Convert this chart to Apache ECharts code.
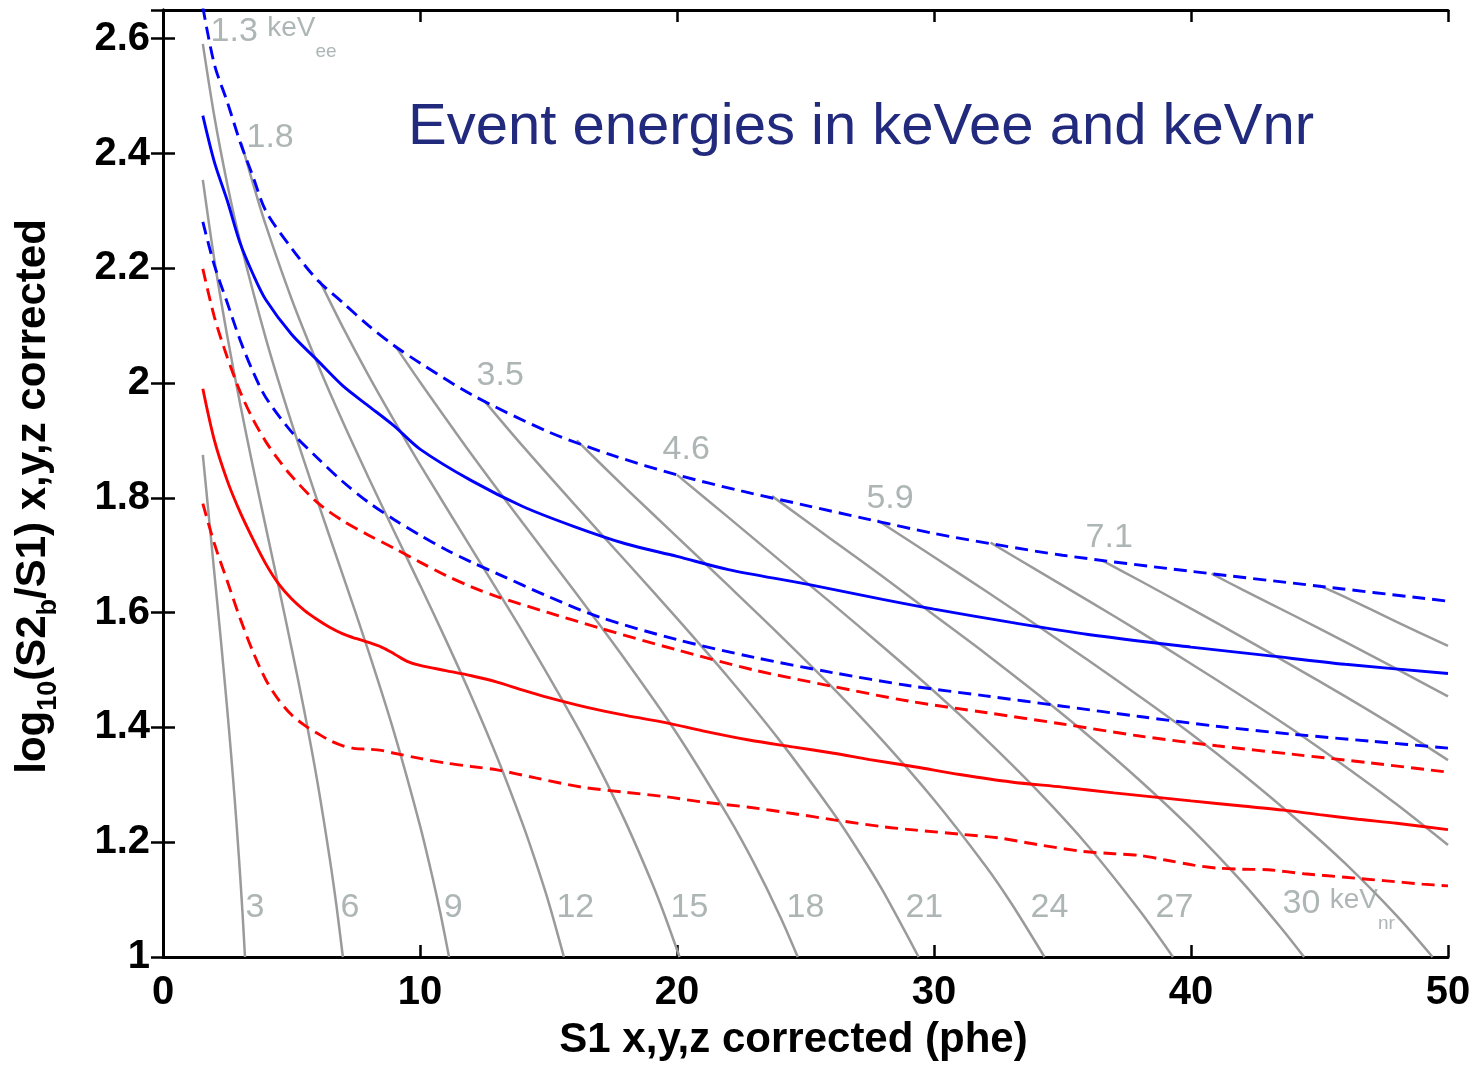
<!DOCTYPE html>
<html>
<head>
<meta charset="utf-8">
<script src="https://cdn.jsdelivr.net/npm/echarts@6/dist/echarts.min.js"></script>
<style>
  html, body { margin: 0; padding: 0; background: #ffffff; }
  #chart { width: 1477px; height: 1066px; }
</style>
</head>
<body>
<div id="chart"></div>
<script>
// ---- ER band (blue): median and upper / lower band edges, [S1, log10(S2b/S1)]
const erMedian = [[1.55,2.466],[2,2.385],[2.5,2.318],[3,2.244],[3.5,2.19],[4,2.145],[5,2.085],[6,2.04],[7,1.995],[8,1.96],[9,1.925],[10,1.885],[12,1.83],[14,1.785],[16,1.75],[18,1.72],[20,1.698],[22,1.675],[25,1.65],[28,1.623],[30,1.606],[33,1.583],[36,1.562],[40,1.54],[43,1.525],[46,1.51],[50,1.494]];
const erUpper = [[1.55,2.655],[2,2.555],[2.5,2.49],[3,2.42],[3.5,2.36],[4,2.30],[5,2.235],[6,2.18],[7,2.14],[8,2.10],[9,2.065],[10,2.035],[12,1.98],[15,1.915],[17.5,1.874],[20,1.84],[22.5,1.812],[25,1.787],[27.5,1.762],[30,1.738],[32.5,1.718],[35,1.70],[40,1.672],[45,1.646],[50,1.62]];
const erLower = [[1.55,2.281],[2,2.205],[2.5,2.14],[3,2.075],[3.5,2.02],[4,1.975],[5,1.915],[6,1.87],[7,1.828],[8,1.792],[9,1.762],[10,1.735],[11,1.71],[12,1.688],[13,1.668],[15,1.628],[17,1.592],[20,1.553],[23,1.522],[26,1.496],[29,1.473],[32,1.455],[35,1.437],[38,1.419],[41,1.402],[44,1.388],[47,1.376],[50,1.364]];

// ---- NR band (red)
const nrMedian = [[1.55,1.99],[2,1.90],[2.5,1.83],[3,1.775],[3.5,1.728],[4,1.685],[4.5,1.65],[5,1.624],[5.5,1.604],[6,1.588],[6.5,1.574],[7,1.563],[7.5,1.555],[8,1.548],[8.5,1.54],[9,1.528],[9.5,1.515],[10,1.508],[11,1.499],[12,1.49],[13,1.479],[14,1.465],[15,1.452],[16.5,1.435],[18,1.421],[19.6,1.408],[21,1.394],[22.8,1.378],[24.5,1.366],[26.1,1.355],[27.5,1.344],[29.3,1.331],[31,1.318],[33,1.305],[35,1.296],[37,1.286],[38.5,1.279],[40,1.272],[42,1.263],[43.6,1.256],[45,1.248],[46.5,1.24],[48,1.233],[50,1.222]];
const nrUpper = [[1.55,2.199],[2,2.115],[2.5,2.045],[3,1.985],[3.5,1.937],[4,1.898],[4.5,1.866],[5,1.838],[6,1.792],[7,1.76],[8,1.735],[9,1.712],[10,1.688],[11,1.665],[12,1.645],[13,1.628],[15,1.60],[17,1.573],[20,1.535],[23,1.50],[26,1.472],[29,1.446],[32,1.426],[35,1.406],[38,1.385],[41,1.368],[44,1.353],[47,1.338],[50,1.322]];
const nrLower = [[1.55,1.79],[2,1.72],[2.5,1.655],[3,1.59],[3.5,1.532],[4,1.483],[4.5,1.448],[5,1.422],[5.5,1.404],[6,1.39],[6.5,1.377],[7,1.368],[7.5,1.363],[8,1.362],[8.5,1.36],[9,1.355],[10,1.346],[11,1.338],[12,1.332],[13,1.326],[14.5,1.312],[16.3,1.296],[18,1.287],[19.6,1.279],[21,1.27],[22.8,1.261],[24.5,1.25],[26.1,1.239],[28,1.227],[29.3,1.221],[31,1.214],[32.6,1.207],[34,1.196],[35.8,1.184],[37,1.18],[38,1.177],[39,1.169],[40.1,1.16],[41,1.155],[42,1.153],[43,1.152],[44.4,1.145],[46,1.139],[47.5,1.133],[49,1.127],[50,1.124]];

// ---- constant-energy contours (grey), one per 3 keVnr step
const contourNr3  = [[1.55,1.875],[1.8,1.760],[2,1.668],[2.25,1.553],[2.5,1.431],[2.65,1.353],[2.8,1.269],[2.9,1.208],[3.0,1.143],[3.1,1.072],[3.19,1.0]];
const contourNr6  = [[1.55,2.354],[2,2.214],[2.5,2.082],[3,1.964],[3.5,1.854],[4,1.749],[4.5,1.645],[5,1.539],[5.5,1.428],[6,1.307],[6.5,1.168],[6.75,1.089],[7.0,1.0]];
const contourNr9  = [[1.55,2.591],[2,2.464],[2.5,2.347],[3,2.247],[4,2.078],[5,1.931],[6,1.796],[7,1.665],[8,1.532],[9,1.390],[10,1.229],[10.5,1.136],[10.8,1.075],[11.13,1.0]];
const contourNr12 = [[3.05,2.418],[3.5,2.348],[4,2.275],[5,2.147],[6,2.035],[7,1.932],[8,1.835],[9,1.741],[10,1.648],[11,1.553],[12,1.454],[13,1.348],[14,1.231],[14.5,1.166],[15,1.096],[15.6,1.0]];
const contourNr15 = [[6.1,2.178],[7,2.097],[8,2.013],[9,1.934],[10,1.858],[12,1.712],[14,1.566],[16,1.411],[17,1.327],[18,1.235],[19,1.132],[19.5,1.075],[20.1,1.0]];
const contourNr18 = [[9.05,2.064],[10,2.002],[12,1.876],[14,1.756],[16,1.638],[18,1.517],[20,1.389],[22,1.244],[23,1.163],[24,1.072],[24.7,1.0]];
const contourNr21 = [[12.5,1.969],[14,1.890],[16,1.789],[18,1.690],[20,1.590],[22,1.487],[24,1.377],[26,1.256],[27,1.189],[28,1.116],[29.4,1.0]];
const contourNr24 = [[16.1,1.90],[18,1.817],[20,1.732],[22,1.647],[24,1.561],[26,1.472],[28,1.377],[30,1.274],[32,1.159],[33,1.094],[34.3,1.0]];
const contourNr27 = [[20,1.84],[22,1.766],[24,1.691],[26,1.617],[28,1.541],[30,1.463],[32,1.380],[34,1.291],[36,1.193],[38,1.081],[39.3,1.0]];
const contourNr30 = [[23.7,1.803],[26,1.728],[28,1.663],[30,1.596],[32,1.529],[34,1.459],[36,1.386],[38,1.308],[40,1.224],[42,1.130],[43.5,1.051],[44.4,1.0]];
const contourNr33 = [[27.8,1.761],[30,1.697],[32,1.638],[34,1.578],[36,1.517],[38,1.454],[40,1.389],[42,1.319],[44,1.244],[46,1.163],[48,1.072],[49.4,1.0]];
const contourNr36 = [[32.2,1.722],[34,1.674],[36,1.621],[38,1.567],[40,1.511],[42,1.454],[44,1.395],[46,1.332],[48,1.266],[50,1.195]];
const contourNr39 = [[36.5,1.692],[38,1.656],[40,1.607],[42,1.557],[44,1.506],[46,1.454],[48,1.400],[50,1.343]];
const contourNr42 = [[40.8,1.668],[42,1.640],[44,1.595],[46,1.549],[48,1.502],[50,1.454]];
const contourNr45 = [[45,1.647],[46,1.627],[48,1.584],[50,1.542]];

const contours = [contourNr3, contourNr6, contourNr9, contourNr12, contourNr15, contourNr18, contourNr21,
                  contourNr24, contourNr27, contourNr30, contourNr33, contourNr36, contourNr39, contourNr42, contourNr45];

// ---- contour energy labels: keVee along the top edge, keVnr along the bottom
const eeLabelText = ['1.3', '1.8', '3.5', '4.6', '5.9', '7.1'];
const eeLabelAt   = [[1.83,2.601],[3.23,2.424],[12.18,2.009],[19.42,1.880],[27.35,1.796],[35.88,1.727]];
const nrLabelText = ['3', '6', '9', '12', '15', '18', '21', '24', '27', '30'];
const nrLabelAt   = [[3.19,1.082],[6.89,1.082],[10.9,1.082],[15.29,1.082],[19.73,1.082],[24.24,1.082],[28.87,1.082],[33.74,1.082],[38.6,1.082],[43.54,1.082]];

const FONT = '"Liberation Sans", Arial, Helvetica, sans-serif';
const LABEL_GREY = '#98a2a2';

const labelRich = {
  a: { fontFamily: FONT, fontSize: 34, lineHeight: 38, verticalAlign: 'top', color: LABEL_GREY },
  u: { fontFamily: FONT, fontSize: 28, lineHeight: 47, verticalAlign: 'top', color: LABEL_GREY },
  s: { fontFamily: FONT, fontSize: 19, lineHeight: 23, verticalAlign: 'bottom', color: LABEL_GREY }
};

const series = [];

contours.forEach(function (pts) {
  series.push({
    type: 'line', data: pts, symbol: 'none', silent: true, z: 2,
    smooth: 0.3,
    lineStyle: { color: '#9a9a9a', width: 2.5 }
  });
});

function bandLine(data, color, dashed) {
  return {
    type: 'line', data: data, symbol: 'none', silent: true, z: 3,
    smooth: 0.3,
    lineStyle: { color: color, width: 2.9, type: dashed ? [13, 7] : 'solid' }
  };
}
series.push(bandLine(erUpper, '#0000ff', true));
series.push(bandLine(erMedian, '#0000ff', false));
series.push(bandLine(erLower, '#0000ff', true));
series.push(bandLine(nrUpper, '#ff0000', true));
series.push(bandLine(nrMedian, '#ff0000', false));
series.push(bandLine(nrLower, '#ff0000', true));

function labelSeries(texts, at, unitTag) {
  return {
    type: 'scatter', silent: true, z: 6, symbolSize: 1,
    itemStyle: { color: 'rgba(0,0,0,0)' },
    data: at.map(function (p, i) {
      let txt = '{a|' + texts[i] + '}';
      if (unitTag && i === unitTag.index) txt += '{a| }{u|keV}{s|' + unitTag.sub + '}';
      return { value: p, name: txt };
    }),
    label: {
      show: true, position: 'right', distance: 0,
      formatter: function (p) { return p.name; },
      rich: labelRich
    }
  };
}
series.push(labelSeries(eeLabelText, eeLabelAt, { index: 0, sub: 'ee' }));
series.push(labelSeries(nrLabelText, nrLabelAt, { index: nrLabelText.length - 1, sub: 'nr' }));

const axisLineStyle = { color: '#000', width: 3 };
const tickStyle = { inside: true, length: 12, lineStyle: { color: '#000', width: 2.5 } };
const tickLabel = { fontFamily: FONT, fontSize: 40, fontWeight: 'bold', color: '#000' };

const option = {
  animation: false,
  backgroundColor: '#ffffff',
  title: {
    text: 'Event energies in keVee and keVnr',
    left: 403, top: 94,
    textStyle: { fontFamily: FONT, fontSize: 58, fontWeight: 'normal', color: '#222a7e' }
  },
  grid: { left: 163, right: 29, top: 10, bottom: 109, containLabel: false, outerBoundsMode: 'none' },
  xAxis: [
    {
      type: 'value', min: 0, max: 50, interval: 10, position: 'bottom',
      axisLine: { lineStyle: axisLineStyle }, axisTick: tickStyle,
      axisLabel: Object.assign({ margin: 16 }, tickLabel),
      splitLine: { show: false },
      name: 'S1 x,y,z corrected (phe)', nameLocation: 'middle', nameGap: 62,
      nameTextStyle: { fontFamily: FONT, fontSize: 42, fontWeight: 'bold', color: '#000', padding: [0, 24, 0, 0] }
    },
    {
      type: 'value', min: 0, max: 50, interval: 10, position: 'top',
      axisLine: { lineStyle: axisLineStyle }, axisTick: tickStyle,
      axisLabel: { show: false }, splitLine: { show: false }
    }
  ],
  yAxis: [
    {
      type: 'value', min: 1, max: 2.65, interval: 0.2, position: 'left',
      axisLine: { lineStyle: axisLineStyle }, axisTick: tickStyle,
      axisLabel: Object.assign({ margin: 13, showMaxLabel: false }, tickLabel),
      splitLine: { show: false },
      name: 'log{s|10}(S2{s|b}/S1) x,y,z corrected', nameLocation: 'middle', nameGap: 101,
      nameTextStyle: {
        fontFamily: FONT, fontSize: 42, fontWeight: 'bold', color: '#000', lineHeight: 58,
        padding: [0, 26, 0, 0],
        rich: { s: { fontFamily: FONT, fontSize: 27, fontWeight: 'bold', color: '#000', lineHeight: 27, verticalAlign: 'bottom' } }
      }
    },
    {
      type: 'value', min: 1, max: 2.65, interval: 0.2, position: 'right',
      axisLine: { lineStyle: axisLineStyle }, axisTick: tickStyle,
      axisLabel: { show: false }, splitLine: { show: false }
    }
  ],
  series: series
};

const chart = echarts.init(document.getElementById('chart'), null, { renderer: 'canvas' });
chart.setOption(option);
</script>
</body>
</html>
